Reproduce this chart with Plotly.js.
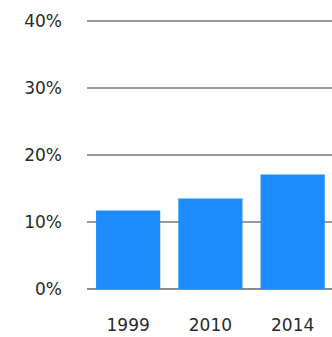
<!DOCTYPE html>
<html>
<head>
<meta charset="utf-8">
<script src="https://cdn.plot.ly/plotly-3.0.1.min.js"></script>
<style>html,body{margin:0;padding:0;background:#fff;}#chart{width:332px;height:337px;}</style>
</head>
<body>
<div id="chart"></div>
<script>
const years = ["1999", "2010", "2014"];
const shares = [11.7, 13.5, 17.1];
const yTicks = [0, 10, 20, 30, 40];
const yTickLabels = ["0%", "10%", "20%", "30%", "40%"];

const trace = {
  type: "bar",
  x: years,
  y: shares,
  marker: {color: "#1E8CFF"},
  hoverinfo: "none"
};

const layout = {
  width: 332,
  height: 337,
  margin: {l: 87, r: 0, t: 17, b: 48, pad: 0},
  paper_bgcolor: "#ffffff",
  plot_bgcolor: "#ffffff",
  bargap: 0.22,
  showlegend: false,
  font: {family: "DejaVu Sans", size: 17, color: "#2a2a2a"},
  xaxis: {
    type: "category",
    range: [-0.5, 2.478],
    showgrid: false,
    showline: false,
    zeroline: false,
    ticks: "",
    ticklabelstandoff: 24,
    fixedrange: true
  },
  yaxis: {
    range: [0, 40.6],
    tickvals: yTicks,
    ticktext: yTickLabels,
    showgrid: true,
    gridcolor: "#9a9a9a",
    gridwidth: 1.2,
    zeroline: true,
    zerolinecolor: "#8c8c8c",
    zerolinewidth: 2,
    showline: false,
    ticks: "",
    ticklabelstandoff: 24,
    fixedrange: true
  }
};

Plotly.newPlot("chart", [trace], layout, {staticPlot: true, displayModeBar: false});
</script>
</body>
</html>
